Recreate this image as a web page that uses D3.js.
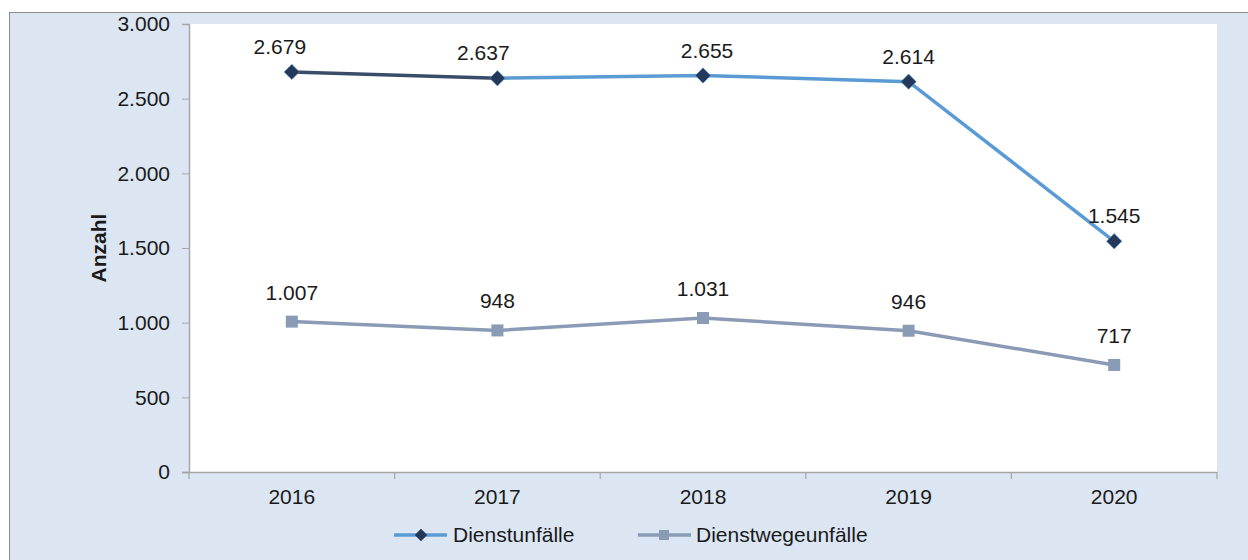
<!DOCTYPE html>
<html>
<head>
<meta charset="utf-8">
<script src="https://cdn.jsdelivr.net/npm/d3@7"></script>
<style>
  html, body { margin: 0; padding: 0; background: #ffffff; }
  svg { display: block; }
  text { font-family: "Liberation Sans", Arial, sans-serif; fill: #1a1a1a; }
</style>
</head>
<body>
<svg id="chart" width="1248" height="560"></svg>
<script>
// Unfallzahlen je Jahr
const years = ["2016", "2017", "2018", "2019", "2020"];
const dienstunfaelle = [2679, 2637, 2655, 2614, 1545];
const dienstwegeunfaelle = [1007, 948, 1031, 946, 717];
const seriesNames = ["Dienstunfälle", "Dienstwegeunfälle"];
const yTicks = [0, 500, 1000, 1500, 2000, 2500, 3000];

const fmt = v => d3.format(",")(v).replace(/,/g, ".");
const FS = 21;

const svg = d3.select("#chart");
const W = 1248, H = 560;
const plot = { left: 189, right: 1217, top: 24, bottom: 472 };

// outer frame
svg.append("rect").attr("x", 9.5).attr("y", 12.5).attr("width", W + 10).attr("height", H)
  .attr("fill", "#dce6f2").attr("stroke", "#8c8c8c").attr("stroke-width", 1);
// plot area
svg.append("rect").attr("x", plot.left).attr("y", plot.top)
  .attr("width", plot.right - plot.left).attr("height", plot.bottom - plot.top)
  .attr("fill", "#ffffff");

const x = d3.scaleBand().domain(years).range([plot.left, plot.right]).padding(0);
const y = d3.scaleLinear().domain([0, 3000]).range([plot.bottom, plot.top]);
const cx = d => x(d) + x.bandwidth() / 2;

// y axis
const yAxis = svg.append("g").attr("transform", `translate(${plot.left},0)`)
  .call(d3.axisLeft(y).tickValues(yTicks).tickFormat(fmt).tickSizeOuter(0).tickSize(7).tickPadding(12));
yAxis.select(".domain").attr("stroke", "#a6a6a6").attr("stroke-width", 1.5);
yAxis.selectAll(".tick line").attr("stroke", "#a6a6a6");
yAxis.selectAll(".tick text").attr("font-size", FS).attr("fill", "#1a1a1a")
  .attr("font-family", "Liberation Sans, Arial, sans-serif");

// x axis (ticks at category boundaries)
const xg = svg.append("g").attr("transform", `translate(0,${plot.bottom})`);
xg.append("line").attr("x1", plot.left - 7).attr("x2", plot.right).attr("y1", 0.5).attr("y2", 0.5)
  .attr("stroke", "#a6a6a6").attr("stroke-width", 1.5);
const bounds = years.map(d => x(d)).concat([plot.right]);
xg.selectAll("line.tk").data(bounds).join("line").attr("class", "tk")
  .attr("x1", d => d).attr("x2", d => d).attr("y1", 0).attr("y2", 7)
  .attr("stroke", "#a6a6a6").attr("stroke-width", 1.2);
xg.selectAll("text").data(years).join("text")
  .attr("x", d => cx(d)).attr("y", 32).attr("text-anchor", "middle")
  .attr("font-size", FS).text(d => d);

// axis title
svg.append("text").attr("transform", `translate(106,${(plot.top + plot.bottom) / 2}) rotate(-90)`)
  .attr("text-anchor", "middle").attr("font-size", FS).attr("font-weight", "bold").text("Anzahl");

const line = d3.line().x(d => cx(d.year)).y(d => y(d.value));

// Dienstwegeunfälle
const s2 = years.map((yr, i) => ({ year: yr, value: dienstwegeunfaelle[i] }));
svg.append("path").datum(s2).attr("d", line).attr("fill", "none")
  .attr("stroke", "#8a9bb5").attr("stroke-width", 3.5);
svg.selectAll("rect.m2").data(s2).join("rect").attr("class", "m2")
  .attr("x", d => cx(d.year) - 6).attr("y", d => y(d.value) - 6)
  .attr("width", 12).attr("height", 12).attr("fill", "#8a9bb5");

// Dienstunfälle (erstes Segment dunkel hervorgehoben)
const s1 = years.map((yr, i) => ({ year: yr, value: dienstunfaelle[i] }));
svg.append("path").datum(s1.slice(1)).attr("d", line).attr("fill", "none")
  .attr("stroke", "#5b9bd5").attr("stroke-width", 3.5);
svg.append("path").datum(s1.slice(0, 2)).attr("d", line).attr("fill", "none")
  .attr("stroke", "#3a4d68").attr("stroke-width", 3.5);
const diamond = d3.symbol().type(d3.symbolDiamond2).size(150);
svg.selectAll("path.m1").data(s1).join("path").attr("class", "m1")
  .attr("transform", d => `translate(${cx(d.year)},${y(d.value)})`)
  .attr("d", diamond).attr("fill", "#24395a").attr("stroke", "#5b9bd5").attr("stroke-width", 0.6);

// value labels
const labelShift = [-12, -14, 4, 0, 0];
svg.selectAll("text.l1").data(s1).join("text").attr("class", "l1")
  .attr("x", (d, i) => cx(d.year) + labelShift[i]).attr("y", d => y(d.value) - 18)
  .attr("text-anchor", "middle").attr("font-size", FS).text(d => fmt(d.value));
svg.selectAll("text.l2").data(s2).join("text").attr("class", "l2")
  .attr("x", d => cx(d.year)).attr("y", d => y(d.value) - 22)
  .attr("text-anchor", "middle").attr("font-size", FS).text(d => fmt(d.value));

// legend
const lg = svg.append("g").attr("transform", "translate(0,535)");
lg.append("line").attr("x1", 394).attr("x2", 447).attr("y1", 0).attr("y2", 0)
  .attr("stroke", "#5b9bd5").attr("stroke-width", 3.5);
lg.append("path").attr("transform", "translate(421,0)").attr("d", d3.symbol().type(d3.symbolDiamond2).size(100))
  .attr("fill", "#24395a");
lg.append("text").attr("x", 453).attr("y", 7).attr("font-size", FS).text(seriesNames[0]);
lg.append("line").attr("x1", 638).attr("x2", 691).attr("y1", 0).attr("y2", 0)
  .attr("stroke", "#8a9bb5").attr("stroke-width", 3.5);
lg.append("rect").attr("x", 659).attr("y", -5).attr("width", 10).attr("height", 10).attr("fill", "#8a9bb5");
lg.append("text").attr("x", 696).attr("y", 7).attr("font-size", FS).text(seriesNames[1]);
</script>
</body>
</html>
